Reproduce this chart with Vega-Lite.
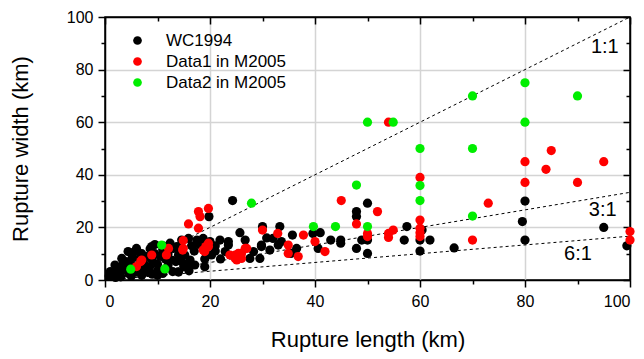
{
  "$schema": "https://vega.github.io/schema/vega-lite/v6.json",
  "width": 525,
  "height": 263,
  "autosize": {"type": "none"},
  "padding": {"left": 105, "top": 17, "right": 14, "bottom": 79},
  "background": "white",
  "config": {
    "font": "Liberation Sans",
    "view": {"stroke": "#000000", "strokeWidth": 1.5}
  },
  "datasets": {
    "pts": [
      {"series": "WC1994", "L": 0.8, "W": 1.5}, {"series": "WC1994", "L": 1.2, "W": 2.5}, {"series": "WC1994", "L": 1.5, "W": 1.8},
      {"series": "WC1994", "L": 1.0, "W": 3.2}, {"series": "WC1994", "L": 1.9, "W": 5.7}, {"series": "WC1994", "L": 2.0, "W": 3.0},
      {"series": "WC1994", "L": 2.2, "W": 4.5}, {"series": "WC1994", "L": 2.5, "W": 2.2}, {"series": "WC1994", "L": 3.0, "W": 5.0},
      {"series": "WC1994", "L": 3.0, "W": 3.5}, {"series": "WC1994", "L": 3.2, "W": 8.2}, {"series": "WC1994", "L": 3.5, "W": 6.5},
      {"series": "WC1994", "L": 4.0, "W": 4.0}, {"series": "WC1994", "L": 4.0, "W": 7.0}, {"series": "WC1994", "L": 4.4, "W": 10.8},
      {"series": "WC1994", "L": 4.5, "W": 2.5}, {"series": "WC1994", "L": 5.0, "W": 6.0}, {"series": "WC1994", "L": 5.2, "W": 8.5},
      {"series": "WC1994", "L": 5.7, "W": 10.8}, {"series": "WC1994", "L": 6.0, "W": 3.0}, {"series": "WC1994", "L": 6.5, "W": 8.0},
      {"series": "WC1994", "L": 7.0, "W": 4.5}, {"series": "WC1994", "L": 7.0, "W": 10.0}, {"series": "WC1994", "L": 7.5, "W": 6.0},
      {"series": "WC1994", "L": 7.9, "W": 8.9}, {"series": "WC1994", "L": 8.0, "W": 3.0}, {"series": "WC1994", "L": 8.5, "W": 5.0},
      {"series": "WC1994", "L": 8.6, "W": 11.9}, {"series": "WC1994", "L": 8.9, "W": 12.7}, {"series": "WC1994", "L": 9.0, "W": 7.5},
      {"series": "WC1994", "L": 9.5, "W": 10.0}, {"series": "WC1994", "L": 10.0, "W": 3.5}, {"series": "WC1994", "L": 10.0, "W": 6.0},
      {"series": "WC1994", "L": 10.5, "W": 9.0}, {"series": "WC1994", "L": 11.0, "W": 11.5}, {"series": "WC1994", "L": 11.5, "W": 8.0},
      {"series": "WC1994", "L": 12.0, "W": 5.5}, {"series": "WC1994", "L": 12.4, "W": 14.0}, {"series": "WC1994", "L": 12.7, "W": 7.6},
      {"series": "WC1994", "L": 12.9, "W": 3.2}, {"series": "WC1994", "L": 13.0, "W": 12.0}, {"series": "WC1994", "L": 13.5, "W": 7.0},
      {"series": "WC1994", "L": 13.7, "W": 12.7}, {"series": "WC1994", "L": 14.0, "W": 9.5}, {"series": "WC1994", "L": 14.6, "W": 15.2},
      {"series": "WC1994", "L": 14.6, "W": 7.0}, {"series": "WC1994", "L": 15.0, "W": 5.0}, {"series": "WC1994", "L": 15.2, "W": 9.5},
      {"series": "WC1994", "L": 15.6, "W": 5.7}, {"series": "WC1994", "L": 15.9, "W": 15.8}, {"series": "WC1994", "L": 16.2, "W": 7.6},
      {"series": "WC1994", "L": 17.0, "W": 11.0}, {"series": "WC1994", "L": 17.1, "W": 5.7}, {"series": "WC1994", "L": 17.5, "W": 15.2},
      {"series": "WC1994", "L": 18.7, "W": 15.8}, {"series": "WC1994", "L": 19.0, "W": 5.0}, {"series": "WC1994", "L": 19.8, "W": 24.1},
      {"series": "WC1994", "L": 20.0, "W": 14.6}, {"series": "WC1994", "L": 20.3, "W": 9.5}, {"series": "WC1994", "L": 21.0, "W": 13.0},
      {"series": "WC1994", "L": 21.9, "W": 15.2}, {"series": "WC1994", "L": 22.9, "W": 10.8}, {"series": "WC1994", "L": 23.5, "W": 14.6},
      {"series": "WC1994", "L": 23.5, "W": 13.3}, {"series": "WC1994", "L": 24.3, "W": 30.2},
      {"series": "WC1994", "L": 6.0, "W": 12.0}, {"series": "WC1994", "L": 9.5, "W": 13.5}, {"series": "WC1994", "L": 11.0, "W": 13.0},
      {"series": "WC1994", "L": 12.0, "W": 10.0}, {"series": "WC1994", "L": 16.5, "W": 13.0}, {"series": "WC1994", "L": 18.0, "W": 13.5},
      {"series": "WC1994", "L": 19.0, "W": 8.0}, {"series": "WC1994", "L": 21.0, "W": 11.0}, {"series": "WC1994", "L": 22.0, "W": 8.0},
      {"series": "WC1994", "L": 10.0, "W": 1.8}, {"series": "WC1994", "L": 5.0, "W": 1.5}, {"series": "WC1994", "L": 3.0, "W": 1.2},
      {"series": "WC1994", "L": 7.0, "W": 1.8}, {"series": "WC1994", "L": 9.0, "W": 2.2}, {"series": "WC1994", "L": 11.0, "W": 2.5},
      {"series": "WC1994", "L": 14.0, "W": 3.0}, {"series": "WC1994", "L": 2.0, "W": 1.0}, {"series": "WC1994", "L": 16.0, "W": 3.5},
      {"series": "WC1994", "L": 25.7, "W": 18.0}, {"series": "WC1994", "L": 25.7, "W": 8.9}, {"series": "WC1994", "L": 26.7, "W": 15.2},
      {"series": "WC1994", "L": 27.6, "W": 8.2}, {"series": "WC1994", "L": 28.3, "W": 10.8}, {"series": "WC1994", "L": 29.5, "W": 8.2},
      {"series": "WC1994", "L": 29.8, "W": 12.7}, {"series": "WC1994", "L": 29.8, "W": 13.3}, {"series": "WC1994", "L": 30.0, "W": 20.3},
      {"series": "WC1994", "L": 30.8, "W": 16.0}, {"series": "WC1994", "L": 31.4, "W": 11.4}, {"series": "WC1994", "L": 32.0, "W": 15.8},
      {"series": "WC1994", "L": 33.0, "W": 13.3}, {"series": "WC1994", "L": 33.3, "W": 20.3}, {"series": "WC1994", "L": 33.6, "W": 14.6},
      {"series": "WC1994", "L": 35.4, "W": 10.1}, {"series": "WC1994", "L": 35.7, "W": 17.1}, {"series": "WC1994", "L": 36.5, "W": 12.0},
      {"series": "WC1994", "L": 39.6, "W": 17.7}, {"series": "WC1994", "L": 40.6, "W": 12.0}, {"series": "WC1994", "L": 41.0, "W": 18.0},
      {"series": "WC1994", "L": 43.0, "W": 15.2}, {"series": "WC1994", "L": 44.9, "W": 15.2}, {"series": "WC1994", "L": 44.9, "W": 14.0},
      {"series": "WC1994", "L": 47.9, "W": 26.0}, {"series": "WC1994", "L": 47.9, "W": 24.1}, {"series": "WC1994", "L": 47.9, "W": 12.0},
      {"series": "WC1994", "L": 48.9, "W": 15.2}, {"series": "WC1994", "L": 50.0, "W": 29.2}, {"series": "WC1994", "L": 50.0, "W": 15.2},
      {"series": "WC1994", "L": 50.0, "W": 10.1}, {"series": "WC1994", "L": 57.5, "W": 20.3}, {"series": "WC1994", "L": 57.0, "W": 15.2},
      {"series": "WC1994", "L": 60.4, "W": 19.0}, {"series": "WC1994", "L": 60.0, "W": 15.2}, {"series": "WC1994", "L": 61.9, "W": 15.2},
      {"series": "WC1994", "L": 60.0, "W": 11.0}, {"series": "WC1994", "L": 66.5, "W": 12.2}, {"series": "WC1994", "L": 80.0, "W": 30.0},
      {"series": "WC1994", "L": 79.5, "W": 22.2}, {"series": "WC1994", "L": 95.0, "W": 20.0}, {"series": "WC1994", "L": 80.0, "W": 15.2},
      {"series": "WC1994", "L": 99.4, "W": 13.0},
      {"series": "Data1 in M2005", "L": 6.0, "W": 5.1}, {"series": "Data1 in M2005", "L": 6.8, "W": 7.0}, {"series": "Data1 in M2005", "L": 7.0, "W": 7.6},
      {"series": "Data1 in M2005", "L": 8.9, "W": 9.5}, {"series": "Data1 in M2005", "L": 11.7, "W": 9.5}, {"series": "Data1 in M2005", "L": 12.1, "W": 12.0},
      {"series": "Data1 in M2005", "L": 14.9, "W": 12.0}, {"series": "Data1 in M2005", "L": 14.8, "W": 11.4}, {"series": "Data1 in M2005", "L": 14.9, "W": 15.0},
      {"series": "Data1 in M2005", "L": 15.9, "W": 21.3}, {"series": "Data1 in M2005", "L": 17.8, "W": 26.0}, {"series": "Data1 in M2005", "L": 18.1, "W": 24.1},
      {"series": "Data1 in M2005", "L": 17.8, "W": 19.7}, {"series": "Data1 in M2005", "L": 19.7, "W": 27.2}, {"series": "Data1 in M2005", "L": 18.7, "W": 11.4},
      {"series": "Data1 in M2005", "L": 19.0, "W": 10.8}, {"series": "Data1 in M2005", "L": 19.2, "W": 12.7}, {"series": "Data1 in M2005", "L": 19.7, "W": 12.7},
      {"series": "Data1 in M2005", "L": 19.7, "W": 14.0}, {"series": "Data1 in M2005", "L": 23.8, "W": 9.5}, {"series": "Data1 in M2005", "L": 24.8, "W": 8.2},
      {"series": "Data1 in M2005", "L": 24.8, "W": 9.5}, {"series": "Data1 in M2005", "L": 25.1, "W": 7.6}, {"series": "Data1 in M2005", "L": 25.4, "W": 10.1},
      {"series": "Data1 in M2005", "L": 26.0, "W": 8.2}, {"series": "Data1 in M2005", "L": 26.0, "W": 10.1}, {"series": "Data1 in M2005", "L": 26.7, "W": 12.0},
      {"series": "Data1 in M2005", "L": 27.0, "W": 12.0}, {"series": "Data1 in M2005", "L": 30.0, "W": 19.0}, {"series": "Data1 in M2005", "L": 32.9, "W": 17.7},
      {"series": "Data1 in M2005", "L": 34.9, "W": 13.3}, {"series": "Data1 in M2005", "L": 34.9, "W": 10.1}, {"series": "Data1 in M2005", "L": 36.8, "W": 8.9},
      {"series": "Data1 in M2005", "L": 37.8, "W": 17.1}, {"series": "Data1 in M2005", "L": 40.0, "W": 14.6}, {"series": "Data1 in M2005", "L": 41.9, "W": 10.8},
      {"series": "Data1 in M2005", "L": 45.0, "W": 30.2}, {"series": "Data1 in M2005", "L": 47.9, "W": 21.3}, {"series": "Data1 in M2005", "L": 50.0, "W": 17.7},
      {"series": "Data1 in M2005", "L": 50.0, "W": 16.5}, {"series": "Data1 in M2005", "L": 51.9, "W": 26.0}, {"series": "Data1 in M2005", "L": 54.0, "W": 17.7},
      {"series": "Data1 in M2005", "L": 54.0, "W": 16.2}, {"series": "Data1 in M2005", "L": 54.9, "W": 19.0}, {"series": "Data1 in M2005", "L": 54.0, "W": 60.0},
      {"series": "Data1 in M2005", "L": 60.0, "W": 39.0}, {"series": "Data1 in M2005", "L": 60.0, "W": 22.8}, {"series": "Data1 in M2005", "L": 60.0, "W": 19.7},
      {"series": "Data1 in M2005", "L": 60.0, "W": 18.0}, {"series": "Data1 in M2005", "L": 60.0, "W": 16.5}, {"series": "Data1 in M2005", "L": 70.0, "W": 15.2},
      {"series": "Data1 in M2005", "L": 73.0, "W": 29.2}, {"series": "Data1 in M2005", "L": 80.0, "W": 45.0}, {"series": "Data1 in M2005", "L": 80.0, "W": 37.1},
      {"series": "Data1 in M2005", "L": 84.0, "W": 42.1}, {"series": "Data1 in M2005", "L": 85.0, "W": 49.2}, {"series": "Data1 in M2005", "L": 90.0, "W": 37.1},
      {"series": "Data1 in M2005", "L": 95.0, "W": 45.0}, {"series": "Data1 in M2005", "L": 100.0, "W": 18.4}, {"series": "Data1 in M2005", "L": 100.0, "W": 15.2},
      {"series": "Data2 in M2005", "L": 4.9, "W": 4.1}, {"series": "Data2 in M2005", "L": 10.8, "W": 13.3}, {"series": "Data2 in M2005", "L": 11.4, "W": 4.2},
      {"series": "Data2 in M2005", "L": 27.9, "W": 29.2}, {"series": "Data2 in M2005", "L": 39.7, "W": 20.3}, {"series": "Data2 in M2005", "L": 43.9, "W": 20.3},
      {"series": "Data2 in M2005", "L": 47.9, "W": 36.1}, {"series": "Data2 in M2005", "L": 50.0, "W": 20.3}, {"series": "Data2 in M2005", "L": 50.0, "W": 60.0},
      {"series": "Data2 in M2005", "L": 54.9, "W": 60.0}, {"series": "Data2 in M2005", "L": 60.0, "W": 50.0}, {"series": "Data2 in M2005", "L": 60.0, "W": 35.9},
      {"series": "Data2 in M2005", "L": 60.0, "W": 30.2}, {"series": "Data2 in M2005", "L": 70.0, "W": 70.0}, {"series": "Data2 in M2005", "L": 70.0, "W": 50.0},
      {"series": "Data2 in M2005", "L": 70.0, "W": 24.3}, {"series": "Data2 in M2005", "L": 80.0, "W": 75.0}, {"series": "Data2 in M2005", "L": 80.0, "W": 60.0},
      {"series": "Data2 in M2005", "L": 90.0, "W": 70.0}
    ],
    "lines": [
      {"ratio": "1:1", "L": 0, "W": 0}, {"ratio": "1:1", "L": 100, "W": 100},
      {"ratio": "3:1", "L": 0, "W": 0}, {"ratio": "3:1", "L": 100, "W": 33.33},
      {"ratio": "6:1", "L": 0, "W": 0}, {"ratio": "6:1", "L": 100, "W": 16.67}
    ],
    "labels": [
      {"t": "1:1", "L": 95.2, "W": 88.7},
      {"t": "3:1", "L": 94.8, "W": 26.7},
      {"t": "6:1", "L": 90.1, "W": 9.7}
    ]
  },
  "layer": [
    {
      "data": {"name": "lines"},
      "mark": {"type": "line", "color": "#000000", "strokeWidth": 1, "strokeDash": [3, 3], "clip": true},
      "encoding": {
        "x": {"field": "L", "type": "quantitative", "scale": {"domain": [0, 100], "nice": false, "zero": false},
          "axis": {"orient": "top", "values": [0, 10, 20, 30, 40, 50, 60, 70, 80, 90, 100], "labels": false, "grid": false, "title": null,
            "domainColor": "#000000", "domainWidth": 1.5, "tickColor": "#000000", "tickWidth": 1.5,
            "tickSize": {"condition": {"test": "datum.value % 20 === 0", "value": -7}, "value": -4}}},
        "y": {"field": "W", "type": "quantitative", "scale": {"domain": [0, 100], "nice": false, "zero": false},
          "axis": {"orient": "right", "values": [0, 10, 20, 30, 40, 50, 60, 70, 80, 90, 100], "labels": false, "grid": false, "title": null,
            "domainColor": "#000000", "domainWidth": 1.5, "tickColor": "#000000", "tickWidth": 1.5,
            "tickSize": {"condition": {"test": "datum.value % 20 === 0", "value": -7}, "value": -4}}},
        "detail": {"field": "ratio", "type": "nominal"}
      }
    },
    {
      "data": {"name": "pts"},
      "mark": {"type": "circle", "size": 85, "opacity": 1},
      "encoding": {
        "x": {"field": "L", "type": "quantitative",
          "axis": {"orient": "bottom", "values": [0, 10, 20, 30, 40, 50, 60, 70, 80, 90, 100],
            "labelExpr": "datum.value % 20 === 0 ? datum.label : ''", "labelFontSize": 16, "labelColor": "#000000", "labelPadding": 6, "labelOverlap": false,
            "domainColor": "#000000", "domainWidth": 1.5, "tickColor": "#000000", "tickWidth": 1.5,
            "tickSize": {"condition": {"test": "datum.value % 20 === 0", "value": 7}, "value": 4},
            "grid": true, "gridColor": "#d4d4d4", "gridWidth": 1.5,
            "gridOpacity": {"condition": {"test": "datum.value % 20 === 0 && datum.value > 0 && datum.value < 100", "value": 1}, "value": 0},
            "title": "Rupture length (km)", "titleFontSize": 22, "titleFontWeight": "normal", "titleColor": "#000000", "titlePadding": 20}},
        "y": {"field": "W", "type": "quantitative",
          "axis": {"orient": "left", "values": [0, 10, 20, 30, 40, 50, 60, 70, 80, 90, 100],
            "labelExpr": "datum.value % 20 === 0 ? datum.label : ''", "labelFontSize": 16, "labelColor": "#000000", "labelPadding": 5, "labelOverlap": false,
            "domainColor": "#000000", "domainWidth": 1.5, "tickColor": "#000000", "tickWidth": 1.5,
            "tickSize": {"condition": {"test": "datum.value % 20 === 0", "value": 7}, "value": 4},
            "grid": true, "gridColor": "#d4d4d4", "gridWidth": 1.5,
            "gridOpacity": {"condition": {"test": "datum.value % 20 === 0 && datum.value > 0 && datum.value < 100", "value": 1}, "value": 0},
            "title": "Rupture width (km)", "titleFontSize": 22, "titleFontWeight": "normal", "titleColor": "#000000", "titlePadding": 34}},
        "color": {"field": "series", "type": "nominal",
          "scale": {"domain": ["WC1994", "Data1 in M2005", "Data2 in M2005"], "range": ["#000000", "#ff0000", "#00ee00"]},
          "legend": {"title": null, "orient": "none", "legendX": 24, "legendY": 15, "padding": 0,
            "labelFontSize": 17, "labelColor": "#000000", "symbolSize": 75, "symbolType": "circle",
            "labelOffset": 20, "rowPadding": 3, "symbolStrokeWidth": 0}}
      }
    },
    {
      "data": {"name": "labels"},
      "mark": {"type": "text", "fontSize": 20, "color": "#000000", "align": "center", "baseline": "middle"},
      "encoding": {
        "x": {"field": "L", "type": "quantitative", "axis": null},
        "y": {"field": "W", "type": "quantitative", "axis": null},
        "text": {"field": "t", "type": "nominal"}
      }
    }
  ],
  "resolve": {"axis": {"x": "independent", "y": "independent"}}
}
